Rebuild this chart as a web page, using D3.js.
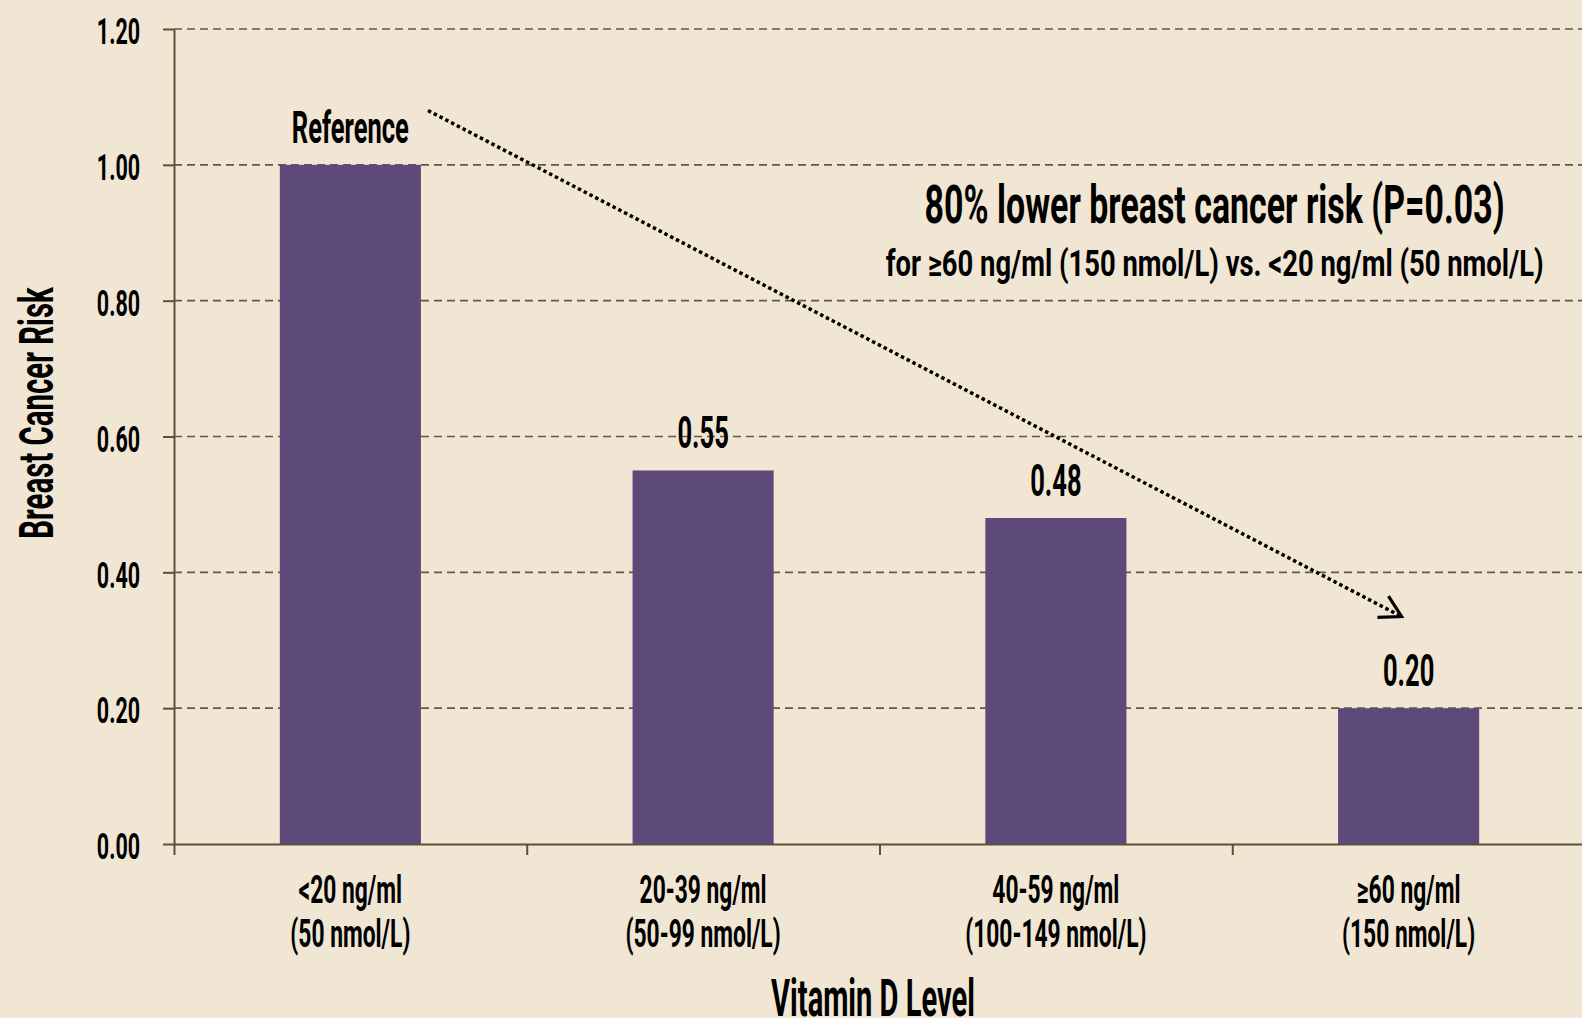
<!DOCTYPE html>
<html>
<head>
<meta charset="utf-8">
<script src="https://cdn.jsdelivr.net/npm/d3@7"></script>
<style>
    html, body { margin: 0; padding: 0; background: #f1e6d3; }
    .canvas text { font-family: Roboto, "Liberation Sans", sans-serif; font-weight: 700; fill: #000; }
</style>
</head>
<body>
<div class="canvas"></div>

<script>

    // chart data
    const categoriesTop = ["<20 ng/ml", "20-39 ng/ml", "40-59 ng/ml", "\u226560 ng/ml"];
    const categoriesBottom = ["(50 nmol/L)", "(50-99 nmol/L)", "(100-149 nmol/L)", "(150 nmol/L)"];
    const riskValues = [1.00, 0.55, 0.48, 0.20];
    const barLabels = ["Reference", "0.55", "0.48", "0.20"];
    const yTicks = [0, 0.2, 0.4, 0.6, 0.8, 1.0, 1.2];

    // annotation, in (band units, risk) coordinates
    const arrowPoints = [[0.72, 1.08], [3.48, 0.335]];
    const noteTitle = "80% lower breast cancer risk (P=0.03)";
    const noteSub = "for \u226560 ng/ml (150 nmol/L) vs. <20 ng/ml (50 nmol/L)";
    const noteTitleAt = [2.95, 0.914];
    const noteSubAt = [2.95, 0.836];

    (function () {
        const width = 1582;
        const height = 1018;
        const PLOT_LEFT = 174;
        const PLOT_RIGHT = 1585;
        const PLOT_TOP = 29;
        const PLOT_BOTTOM = 844;
        const AXIS_COLOR = "#5b5236";
        const BAR_COLOR = "#5e4a7a";

        const svg = d3.select(".canvas").append("svg")
            .attr("width", width)
            .attr("height", height)
            .style("display", "block")

        svg.append("rect").attr("width", width).attr("height", height).attr("fill", "#f1e6d3")

        const x = d3.scaleBand().domain(categoriesTop).range([PLOT_LEFT, PLOT_RIGHT])
            .paddingInner(0.6).paddingOuter(0.3);
        const xLin = d3.scaleLinear().domain([0, categoriesTop.length]).range([PLOT_LEFT, PLOT_RIGHT]);
        const y = d3.scaleLinear().domain([0, 1.2]).range([PLOT_BOTTOM, PLOT_TOP]);

        // squeeze text horizontally to mimic the narrow gothic face
        function squeeze(sel, k) {
            sel.each(function () {
                const w = this.getComputedTextLength();
                d3.select(this).attr("textLength", w * k).attr("lengthAdjust", "spacingAndGlyphs");
            });
        }

        // dashed gridlines
        svg.append("g").selectAll("line")
            .data(yTicks.filter(d => d > 0))
            .enter().append("line")
            .attr("x1", PLOT_LEFT).attr("x2", width)
            .attr("y1", d => y(d)).attr("y2", d => y(d))
            .attr("stroke", "#5f5842")
            .attr("stroke-width", 1.6)
            .attr("stroke-dasharray", "8,5")

        // bars
        svg.append("g").selectAll("rect")
            .data(riskValues)
            .enter().append("rect")
            .attr("x", (d, i) => x(categoriesTop[i]))
            .attr("y", d => y(d))
            .attr("width", x.bandwidth())
            .attr("height", d => y(0) - y(d))
            .attr("fill", BAR_COLOR)

        // bar labels
        svg.append("g").selectAll("text")
            .data(riskValues)
            .enter().append("text")
            .attr("x", (d, i) => x(categoriesTop[i]) + x.bandwidth() / 2)
            .attr("y", d => y(d) - 22)
            .attr("text-anchor", "middle")
            .style("font-size", "44px")
            .text((d, i) => barLabels[i])
            .call(squeeze, 0.58)

        // y axis
        const yAxis = svg.append("g")
            .attr("transform", "translate(" + PLOT_LEFT + ",0)")
            .call(d3.axisLeft(y).tickValues(yTicks).tickFormat(d3.format(".2f"))
                .tickSize(11).tickSizeOuter(0).tickPadding(23));
        yAxis.select(".domain").attr("stroke", AXIS_COLOR).attr("stroke-width", 2);
        yAxis.selectAll(".tick line").attr("stroke", AXIS_COLOR).attr("stroke-width", 2);
        yAxis.selectAll(".tick text")
            .attr("dy", "0.4em")
            .style("font-size", "37px")
            .style("font-family", "Roboto, sans-serif")
            .style("font-weight", 700)
            .attr("fill", "#000")
            .call(squeeze, 0.58)

        // x axis, ticks on the category boundaries
        const xAxis = svg.append("g")
            .attr("transform", "translate(0," + PLOT_BOTTOM + ")")
            .call(d3.axisBottom(xLin).tickValues(d3.range(categoriesTop.length + 1))
                .tickFormat("").tickSize(11).tickSizeOuter(0));
        xAxis.select(".domain").attr("stroke", AXIS_COLOR).attr("stroke-width", 2);
        xAxis.selectAll(".tick line").attr("stroke", AXIS_COLOR).attr("stroke-width", 2);

        // category labels, two lines
        const catG = svg.append("g");
        catG.selectAll("text.top")
            .data(categoriesTop)
            .enter().append("text")
            .attr("class", "top")
            .attr("x", d => x(d) + x.bandwidth() / 2)
            .attr("y", PLOT_BOTTOM + 59)
            .attr("text-anchor", "middle")
            .style("font-size", "38px")
            .text(d => d)
            .call(squeeze, 0.6)
        catG.selectAll("text.bottom")
            .data(categoriesBottom)
            .enter().append("text")
            .attr("class", "bottom")
            .attr("x", (d, i) => x(categoriesTop[i]) + x.bandwidth() / 2)
            .attr("y", PLOT_BOTTOM + 103)
            .attr("text-anchor", "middle")
            .style("font-size", "38px")
            .text(d => d)
            .call(squeeze, 0.6)

        // axis titles
        svg.append("text")
            .attr("x", 873)
            .attr("y", 1016)
            .attr("text-anchor", "middle")
            .style("font-size", "51px")
            .text("Vitamin D Level")
            .call(squeeze, 0.57)

        svg.append("text")
            .attr("transform", "translate(53,413) rotate(-90)")
            .attr("text-anchor", "middle")
            .style("font-size", "49px")
            .text("Breast Cancer Risk")
            .call(squeeze, 0.6)

        // annotation text
        svg.append("text")
            .attr("x", xLin(noteTitleAt[0]))
            .attr("y", y(noteTitleAt[1]))
            .attr("text-anchor", "middle")
            .style("font-size", "53px")
            .text(noteTitle)
            .call(squeeze, 0.64)

        svg.append("text")
            .attr("x", xLin(noteSubAt[0]))
            .attr("y", y(noteSubAt[1]))
            .attr("text-anchor", "middle")
            .style("font-size", "37px")
            .text(noteSub)
            .call(squeeze, 0.74)

        // dotted trend arrow
        svg.append("defs").append("marker")
            .attr("id", "chev")
            .attr("markerUnits", "userSpaceOnUse")
            .attr("viewBox", "-26 -16 30 32")
            .attr("refX", 0).attr("refY", 0)
            .attr("markerWidth", 30).attr("markerHeight", 32)
            .attr("orient", "auto")
            .append("path")
            .attr("d", "M-21,-12 L0,0 L-21,12")
            .attr("fill", "none")
            .attr("stroke", "#000")
            .attr("stroke-width", 3.2)
            .attr("stroke-linejoin", "miter")

        svg.append("path")
            .datum(arrowPoints)
            .attr("d", d3.line().x(d => xLin(d[0])).y(d => y(d[1])))
            .attr("fill", "none")
            .attr("stroke", "#000")
            .attr("stroke-width", 3.5)
            .attr("stroke-dasharray", "3.5,3")
            .attr("marker-end", "url(#chev)")
    })()

</script>
</body>
</html>
